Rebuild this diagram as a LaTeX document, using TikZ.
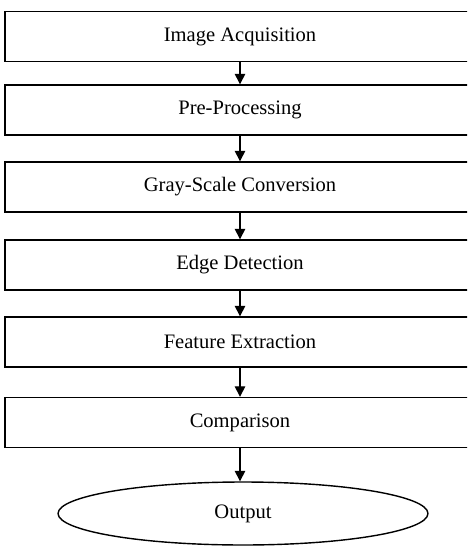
\documentclass[tikz,border=0pt]{standalone}
\usepackage{fontspec}
\setmainfont{Liberation Serif}
\usetikzlibrary{positioning,shapes.geometric,arrows.meta}

\begin{document}
\begin{tikzpicture}[%%
  x=0.02cm,y=-0.02cm,%%
  boxStyle/.style={draw,rectangle,minimum width=9.4cm,minimum height=1cm,inner sep=0pt,line width=0.8pt,font=\fontsize{11.7}{13}\selectfont},%%
  ovalStyle/.style={draw,ellipse,minimum width=7.4cm,minimum height=1.26cm,inner sep=0pt,line width=0.8pt,font=\fontsize{11.7}{13}\selectfont},%%
  arrowStyle/.style={-{Triangle[length=6pt,width=6pt]},line width=0.8pt}%%
]
%%
%%
\useasboundingbox (0,0) rectangle (467,547);
\clip (0,0) rectangle (467,547);
%%
%% The steps.
\node[boxStyle] (acquisition) at (240,36.5) {Image Acquisition};
\node[boxStyle] (preprocessing) at (240,110) {Pre-Processing};
\node[boxStyle] (grayscale) at (240,187) {Gray-Scale Conversion};
\node[boxStyle] (edges) at (240,265) {Edge Detection};
\node[boxStyle] (features) at (240,342) {Feature Extraction};
\node[boxStyle] (comparison) at (240,422.5) {Comparison};
%% The result.
\node[ovalStyle] (output) at (243,513.5) {Output};
%%
%% The arrows.
\draw[arrowStyle] (acquisition) -- (preprocessing);
\draw[arrowStyle] (preprocessing) -- (grayscale);
\draw[arrowStyle] (grayscale) -- (edges);
\draw[arrowStyle] (edges) -- (features);
\draw[arrowStyle] (features) -- (comparison);
\draw[arrowStyle] (comparison.south) -- (comparison.south |- output.north);
\end{tikzpicture}
\end{document}
